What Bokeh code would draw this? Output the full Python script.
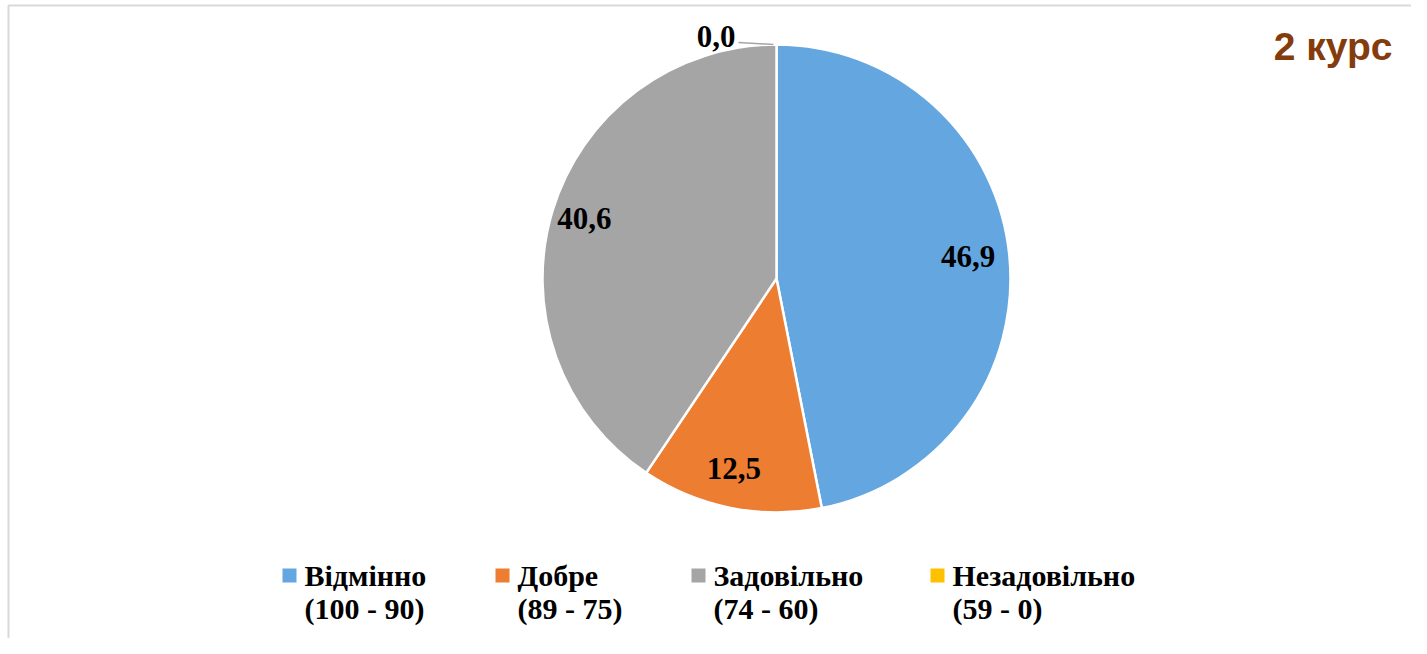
import numpy as np
from bokeh.plotting import figure
from bokeh.models import Range1d
from bokeh.embed import file_html
from bokeh.resources import INLINE
from bokeh.core.properties import value

categories = ["Відмінно", "Добре", "Задовільно", "Незадовільно"]
ranges = ["(100 - 90)", "(89 - 75)", "(74 - 60)", "(59 - 0)"]
values = [46.9, 12.5, 40.6, 0.0]
labels = ["46,9", "12,5", "40,6", "0,0"]
colors = ["#64A6E0", "#ED7D31", "#A5A5A5", "#FFC000"]
title = "2 курс"

W, H = 1411, 638
# data coords == screenshot pixels (x), y measured upward from 654
p = figure(width=W, height=H, output_backend="svg", toolbar_location=None,
           x_range=Range1d(0, W), y_range=Range1d(654 - H, 654),
           min_border=0, outline_line_color=None)
p.axis.visible = False
p.grid.visible = False
p.background_fill_color = "white"

# frame border (top/left visible)
p.line(x=[8, 8, 1440], y=[-20, 654 - 5, 654 - 5], line_color="#D9D9D9", line_width=2)

cx, cy, R = 776, 654 - 278, 234
vals = np.array(values)
frac = vals / vals.sum()
cum = np.concatenate([[0], np.cumsum(frac)])
start = np.pi / 2 - cum[1:] * 2 * np.pi
end = np.pi / 2 - cum[:-1] * 2 * np.pi
nz = frac > 0
p.wedge(x=cx, y=cy, radius=R, start_angle=start[nz], end_angle=end[nz],
        fill_color=[c for c, k in zip(colors, nz) if k], line_color="white", line_width=2.5)

font = value("Liberation Serif")
for i, (lab, f) in enumerate(zip(labels, frac)):
    mid = (start[i] + end[i]) / 2
    if f > 0:
        r = 0.84 * R
        tx, ty = cx + r * np.cos(mid) - 4, cy + r * np.sin(mid) + 3
        p.text(x=[tx], y=[ty], text=[lab], text_font=font, text_font_style="bold",
               text_font_size="31px", text_align="center", text_baseline="middle",
               text_color="black")
    else:
        ex, ey = cx + R * np.cos(mid), cy + R * np.sin(mid)
        p.line(x=[ex - 3, ex - 38], y=[ey, ey + 2], line_color="#A5A5A5", line_width=1.5)
        p.text(x=[ex - 41], y=[ey + 8], text=[lab], text_font=font, text_font_style="bold",
               text_font_size="31px", text_align="right", text_baseline="middle",
               text_color="black")

p.text(x=[1392], y=[654 - 46], text=[title], text_font=value("Liberation Sans"),
       text_font_style="bold", text_font_size="39px", text_align="right",
       text_baseline="middle", text_color="#843C0C")

leg_x = [289, 502, 698, 937]
ly = 654 - 575
p.rect(x=leg_x, y=ly, width=14, height=14, fill_color=colors, line_color=None)
p.text(x=[x + 15 for x in leg_x], y=ly, text=categories, text_font=font,
       text_font_style="bold", text_font_size="30px", text_align="left",
       text_baseline="middle", text_color="black")
p.text(x=[x + 15 for x in leg_x], y=ly - 33, text=ranges, text_font=font,
       text_font_style="bold", text_font_size="30px", text_align="left",
       text_baseline="middle", text_color="black")

open("out.html", "w").write(file_html(p, INLINE))
